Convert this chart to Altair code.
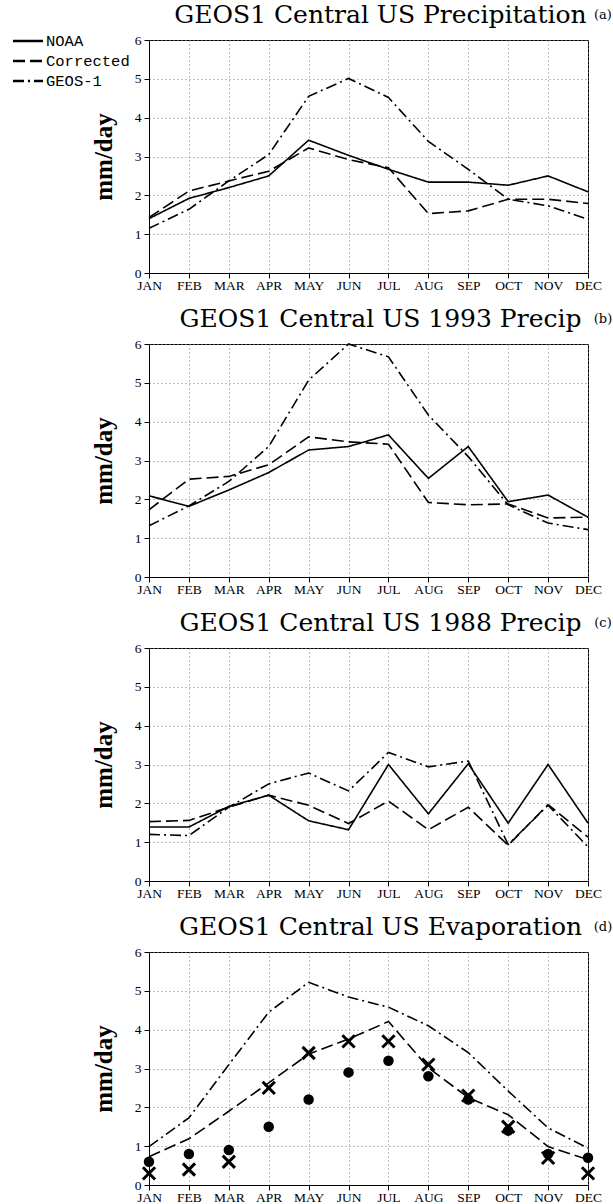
import altair as alt
import pandas as pd

months = ["JAN", "FEB", "MAR", "APR", "MAY", "JUN", "JUL", "AUG", "SEP", "OCT", "NOV", "DEC"]
series_names = ["NOAA", "Corrected", "GEOS-1"]
dash_patterns = [[1, 0], [12, 5], [11, 4, 2, 4]]

# (a) Central US Precipitation (climatology)
a_noaa = [1.40, 1.92, 2.20, 2.50, 3.42, 3.03, 2.67, 2.34, 2.34, 2.26, 2.50, 2.09]
a_corr = [1.43, 2.11, 2.37, 2.62, 3.22, 2.92, 2.71, 1.53, 1.60, 1.90, 1.90, 1.79]
a_geos = [1.15, 1.64, 2.37, 3.05, 4.55, 5.01, 4.52, 3.39, 2.67, 1.90, 1.73, 1.38]

# (b) 1993 Precip
b_noaa = [2.09, 1.82, 2.24, 2.69, 3.27, 3.36, 3.66, 2.54, 3.36, 1.94, 2.11, 1.54]
b_corr = [1.73, 2.52, 2.59, 2.89, 3.61, 3.48, 3.42, 1.92, 1.86, 1.88, 1.52, 1.54]
b_geos = [1.32, 1.83, 2.46, 3.36, 5.07, 6.00, 5.67, 4.17, 3.10, 1.86, 1.39, 1.22]

# (c) 1988 Precip
c_noaa = [1.39, 1.39, 1.92, 2.21, 1.55, 1.32, 3.00, 1.73, 3.02, 1.49, 3.00, 1.49]
c_corr = [1.53, 1.56, 1.90, 2.21, 1.95, 1.48, 2.06, 1.32, 1.90, 0.92, 1.97, 1.13]
c_geos = [1.20, 1.17, 1.90, 2.50, 2.78, 2.32, 3.31, 2.94, 3.09, 0.94, 1.95, 0.88]

# (d) Evaporation
d_geos = [0.99, 1.73, 3.10, 4.45, 5.22, 4.84, 4.58, 4.10, 3.41, 2.42, 1.47, 0.95]
d_corr = [0.73, 1.19, 1.90, 2.63, 3.37, 3.76, 4.21, 3.02, 2.25, 1.81, 0.99, 0.65]
d_dots = [0.6, 0.8, 0.9, 1.5, 2.2, 2.9, 3.2, 2.8, 2.2, 1.4, 0.8, 0.7]
d_cross = [0.3, 0.4, 0.6, 2.5, 3.4, 3.7, 3.7, 3.1, 2.3, 1.5, 0.7, 0.3]

titles = [
    "GEOS1 Central US Precipitation",
    "GEOS1 Central US 1993 Precip",
    "GEOS1 Central US 1988 Precip",
    "GEOS1 Central US Evaporation",
]
tags = ["(a)", "(b)", "(c)", "(d)"]

W, H = 439, 233
LEGEND_SPAN = [1, 41]  # pixel span of the legend rows (first to last)


def long_df(d):
    rows = []
    for name, vals in d.items():
        for m, v in zip(months, vals):
            rows.append({"month": m, "series": name, "value": v})
    return pd.DataFrame(rows)


def x_enc():
    return alt.X(
        "month:N",
        sort=months,
        scale=alt.Scale(type="point", padding=0, domain=months),
        axis=alt.Axis(title=None, labelAngle=0, labelOverlap=False, grid=True, labelPadding=0),
    )


def y_enc():
    return alt.Y(
        "value:Q",
        scale=alt.Scale(domain=[0, 6], nice=False),
        axis=alt.Axis(title="mm/day", values=[0, 1, 2, 3, 4, 5, 6], grid=True, labelPadding=3),
    )


def dash_enc():
    return alt.StrokeDash(
        "series:N", scale=alt.Scale(domain=series_names, range=dash_patterns), legend=None
    )


def header_layers(idx):
    title = alt.Chart(pd.DataFrame({"t": [titles[idx]]})).mark_text(
        font="DejaVu Serif", fontSize=25, align="center", baseline="alphabetic", color="black"
    ).encode(x=alt.value(W / 2 + 12), y=alt.value(-17), text="t:N")
    tag = alt.Chart(pd.DataFrame({"t": [tags[idx]]})).mark_text(
        font="DejaVu Serif", fontSize=13, align="center", baseline="middle", color="black"
    ).encode(x=alt.value(W + 15), y=alt.value(-25), text="t:N")
    return [title, tag]


def legend_layers():
    ldf = pd.DataFrame({"series": series_names})
    ypos = alt.Y(
        "series:N",
        scale=alt.Scale(type="point", domain=series_names, range=LEGEND_SPAN, padding=0),
        axis=None,
    )
    rules = alt.Chart(ldf).mark_rule(color="black", strokeWidth=2.5).encode(
        x=alt.value(-136), x2=alt.value(-106), y=ypos, strokeDash=dash_enc()
    )
    labels = alt.Chart(ldf).mark_text(
        font="Liberation Mono", fontSize=15.5, align="left", baseline="middle", color="black"
    ).encode(x=alt.value(-103), y=ypos, text="series:N")
    return [rules, labels]


def precip_panel(noaa, corr, geos, idx, legend):
    df = long_df({"NOAA": noaa, "Corrected": corr, "GEOS-1": geos})
    lines = alt.Chart(df).mark_line(color="black", strokeWidth=1.6).encode(
        x=x_enc(), y=y_enc(), strokeDash=dash_enc()
    )
    layers = [lines] + header_layers(idx)
    if legend:
        layers += legend_layers()
    return alt.layer(*layers).resolve_scale(y="independent").properties(width=W, height=H)


pa = precip_panel(a_noaa, a_corr, a_geos, 0, True)
pb = precip_panel(b_noaa, b_corr, b_geos, 1, False)
pc = precip_panel(c_noaa, c_corr, c_geos, 2, False)

df_d = long_df({"Corrected": d_corr, "GEOS-1": d_geos})
lines_d = alt.Chart(df_d).mark_line(color="black", strokeWidth=1.6).encode(
    x=x_enc(), y=y_enc(), strokeDash=dash_enc()
)
df_dots = pd.DataFrame({"month": months, "value": d_dots})
df_cross = pd.DataFrame({"month": months, "value": d_cross})
dots = alt.Chart(df_dots).mark_point(
    shape="circle", filled=True, size=110, color="black", opacity=1
).encode(x=x_enc(), y=y_enc())
crosses = alt.Chart(df_cross).mark_point(
    shape="M-1,-1L1,1M-1,1L1,-1", filled=False, size=150, color="black",
    strokeWidth=3, opacity=1
).encode(x=x_enc(), y=y_enc())
pd_ = alt.layer(lines_d, dots, crosses, *header_layers(3)).properties(width=W, height=H)

chart = alt.vconcat(pa, pb, pc, pd_, spacing=14).resolve_scale(
    strokeDash="independent"
).properties(
    padding={"left": 11, "top": 2, "right": 0, "bottom": 0}, background="white"
).configure_view(
    stroke="black", strokeWidth=1
).configure_axis(
    domainColor="black", domainWidth=1,
    tickColor="black", tickSize=5, tickWidth=1,
    labelFont="Liberation Serif", labelFontSize=13.5, labelColor="black", labelPadding=2,
    titleFont="Liberation Serif", titleFontSize=25, titleFontWeight="bold", titleColor="black",
    titlePadding=18,
    gridColor="#808080", gridDash=[1, 3], gridWidth=1, gridOpacity=1,
)

chart.save("out.html", embed_options={"renderer": "svg", "actions": False})
